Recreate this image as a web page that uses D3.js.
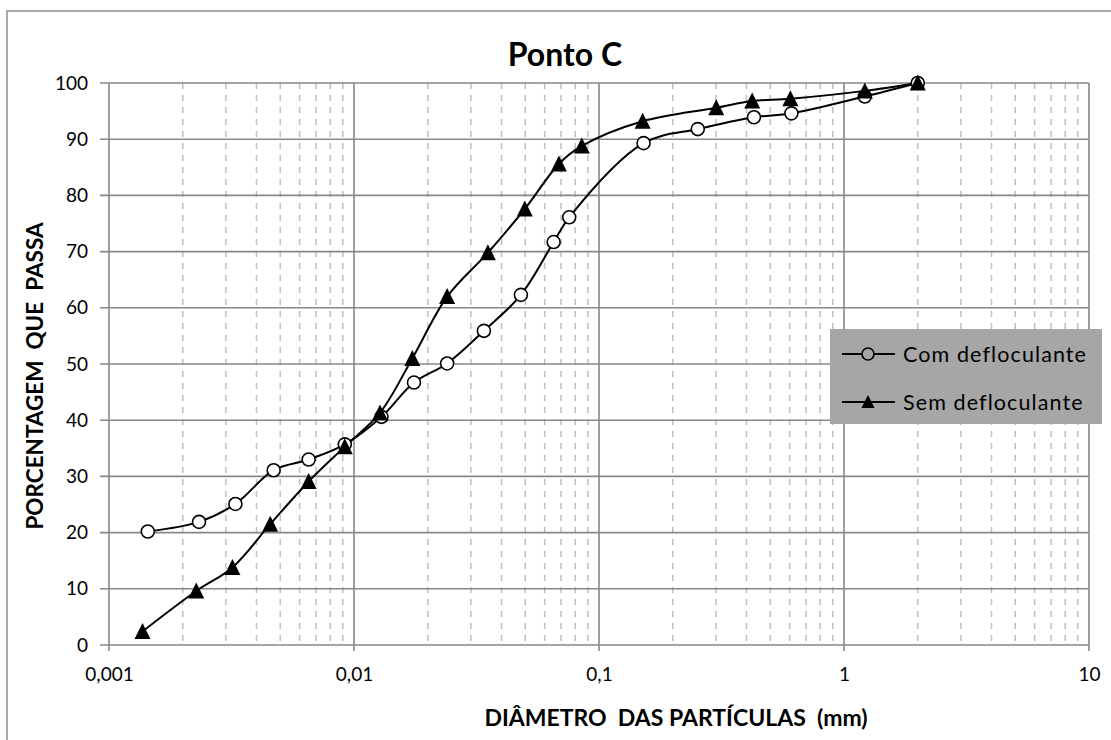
<!DOCTYPE html>
<html>
<head>
<meta charset="utf-8">
<script src="https://cdn.jsdelivr.net/npm/d3@7"></script>
<style>
  html, body { margin: 0; padding: 0; background: #fff; }
  svg { display: block; }
  text { font-family: Lato, "Open Sans", sans-serif; fill: #000; }
</style>
</head>
<body>
<svg id="chart" width="1111" height="740"></svg>
<script>
// ---- data ----
const comDiam = [0.00144, 0.00233, 0.00328, 0.0047, 0.00653, 0.00917, 0.01295, 0.01757, 0.024, 0.0339, 0.048, 0.0653, 0.0756, 0.152, 0.253, 0.429, 0.61, 1.216, 2.0];
const comPass = [20.2, 21.9, 25.1, 31.1, 33.0, 35.7, 40.6, 46.7, 50.1, 55.9, 62.3, 71.7, 76.1, 89.3, 91.8, 93.9, 94.6, 97.6, 100];
const semDiam = [0.00137, 0.00227, 0.00319, 0.00455, 0.00653, 0.00917, 0.01276, 0.0173, 0.024, 0.0352, 0.0498, 0.0686, 0.0851, 0.1507, 0.301, 0.422, 0.604, 1.216, 2.0];
const semPass = [2.4, 9.6, 13.8, 21.5, 29.1, 35.3, 41.3, 51.0, 62.0, 69.8, 77.6, 85.6, 88.8, 93.2, 95.6, 96.8, 97.2, 98.6, 100];
const seriesNames = ["Com defloculante", "Sem defloculante"];
const xTickValues = [0.001, 0.01, 0.1, 1, 10];
const xTickLabels = ["0,001", "0,01", "0,1", "1", "10"];
const yTickValues = [0, 10, 20, 30, 40, 50, 60, 70, 80, 90, 100];
const titleText = "Ponto C";
const xTitle = "DIÂMETRO  DAS PARTÍCULAS  (mm)";
const yTitle = "PORCENTAGEM  QUE  PASSA";

// ---- layout ----
const L = 109, R = 1089, T = 83, B = 645;
const svg = d3.select("#chart");

// outer frame
svg.append("rect").attr("x", 7).attr("y", 11).attr("width", 1120).attr("height", 740)
  .attr("fill", "#fff").attr("stroke", "#8c8c8c").attr("stroke-width", 1.5);

const x = d3.scaleLog().domain([0.001, 10]).range([L, R]);
const y = d3.scaleLinear().domain([0, 100]).range([B, T]);

// minor vertical grid (dashed)
const minor = [];
for (let e = -3; e < 1; e++) for (let m = 2; m <= 9; m++) minor.push(m * Math.pow(10, e));
svg.append("g").selectAll("line").data(minor).join("line")
  .attr("x1", d => x(d)).attr("x2", d => x(d)).attr("y1", T).attr("y2", B)
  .attr("stroke", "#bfbfbf").attr("stroke-width", 1.5).attr("stroke-dasharray", "6,6");

// major horizontal grid
svg.append("g").selectAll("line").data(yTickValues).join("line")
  .attr("x1", L - 9).attr("x2", R).attr("y1", d => y(d)).attr("y2", d => y(d))
  .attr("stroke", "#878787").attr("stroke-width", 1.6);

// major vertical grid
svg.append("g").selectAll("line").data(xTickValues).join("line")
  .attr("x1", d => x(d)).attr("x2", d => x(d)).attr("y1", T).attr("y2", B + 6)
  .attr("stroke", "#878787").attr("stroke-width", 1.6);

// axes labels via d3 axes (lines hidden)
const xAxis = d3.axisBottom(x).tickValues(xTickValues)
  .tickFormat((d, i) => xTickLabels[i]).tickSize(0).tickPadding(23);
const gx = svg.append("g").attr("transform", `translate(0,${B})`).call(xAxis);
gx.select(".domain").remove();
gx.selectAll("text").attr("font-size", 19).attr("font-family", "Lato, sans-serif").attr("fill", "#000");

const yAxis = d3.axisLeft(y).tickValues(yTickValues).tickSize(0).tickPadding(21);
const gy = svg.append("g").attr("transform", `translate(${L},0)`).call(yAxis);
gy.select(".domain").remove();
gy.selectAll("text").attr("font-size", 19).attr("font-family", "Lato, sans-serif").attr("fill", "#000");

// titles
svg.append("text").attr("x", 565).attr("y", 66).attr("text-anchor", "middle")
  .attr("font-size", 32).attr("font-weight", "bold").text(titleText);
svg.append("text").attr("x", 676).attr("y", 726).attr("text-anchor", "middle")
  .attr("font-size", 23).attr("font-weight", "bold").style("white-space", "pre").text(xTitle);
svg.append("text").attr("transform", "translate(43,376) rotate(-90)").attr("text-anchor", "middle")
  .attr("font-size", 22.5).attr("font-weight", "bold").style("white-space", "pre").text(yTitle);

// series
const com = comDiam.map((d, i) => [d, comPass[i]]);
const sem = semDiam.map((d, i) => [d, semPass[i]]);
const line = d3.line().x(d => x(d[0])).y(d => y(d[1])).curve(d3.curveCatmullRom.alpha(0.5));

svg.append("path").attr("d", line(com)).attr("fill", "none").attr("stroke", "#000").attr("stroke-width", 2);
svg.append("path").attr("d", line(sem)).attr("fill", "none").attr("stroke", "#000").attr("stroke-width", 2);

const tri = (s) => `M0,${-s*0.53}L${s/2},${s*0.47}L${-s/2},${s*0.47}Z`;

svg.append("g").selectAll("circle").data(com).join("circle")
  .attr("cx", d => x(d[0])).attr("cy", d => y(d[1])).attr("r", 6.5)
  .attr("fill", "#fff").attr("stroke", "#000").attr("stroke-width", 1.6);
svg.append("g").selectAll("path").data(sem).join("path")
  .attr("transform", d => `translate(${x(d[0])},${y(d[1])})`)
  .attr("d", tri(16)).attr("fill", "#000");

// legend
const lg = svg.append("g");
lg.append("rect").attr("x", 830).attr("y", 329).attr("width", 272).attr("height", 95).attr("fill", "#a6a6a6");
const ly = [354, 402];
lg.selectAll("line.l").data(ly).join("line").attr("class", "l")
  .attr("x1", 842).attr("x2", 895).attr("y1", d => d).attr("y2", d => d)
  .attr("stroke", "#000").attr("stroke-width", 2);
lg.append("circle").attr("cx", 868).attr("cy", ly[0]).attr("r", 6).attr("fill", "#a6a6a6")
  .attr("stroke", "#000").attr("stroke-width", 1.6);
lg.append("path").attr("transform", `translate(868,${ly[1]})`).attr("d", tri(13)).attr("fill", "#000");
lg.selectAll("text").data(seriesNames).join("text")
  .attr("x", 903).attr("y", (d, i) => ly[i] + 8).attr("font-size", 21.5).attr("letter-spacing", 1.1).text(d => d);
</script>
</body>
</html>
